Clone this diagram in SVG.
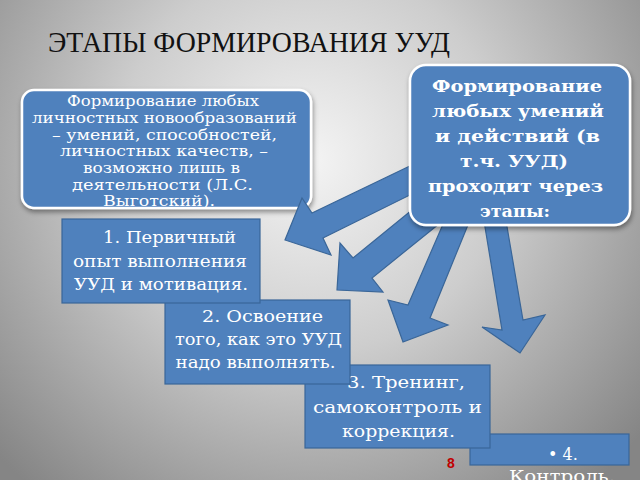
<svg xmlns="http://www.w3.org/2000/svg" width="640" height="480" viewBox="0 0 640 480">
<defs>
<radialGradient id="bg" cx="310" cy="160" r="430" gradientUnits="userSpaceOnUse">
<stop offset="0" stop-color="#f4f4f4"/>
<stop offset="0.45" stop-color="#cdcdcd"/>
<stop offset="1" stop-color="#858585"/>
</radialGradient>
<filter id="sh" x="-10%" y="-10%" width="120%" height="130%">
<feDropShadow dx="1" dy="3" stdDeviation="2.5" flood-color="#000" flood-opacity="0.4"/>
</filter>
<style>
.rb{fill:#4f81bd;stroke:#fff;stroke-width:2.5;filter:url(#sh)}
.sb{fill:#4f81bd;stroke:#3a6698;stroke-width:1.2}
.ar{fill:#4f81bd;stroke:#3a6698;stroke-width:1.2;stroke-linejoin:miter}
.ttl{font-family:'Liberation Serif','Times New Roman',serif;font-size:30px;fill:#111;text-anchor:middle}
.t{font-family:'DejaVu Serif','Liberation Serif',serif;fill:#fff;text-anchor:middle}
.s{font-size:14.5px}
.m{font-size:16px}
.b{font-size:16.5px;font-weight:bold}
.pg{font-family:'Liberation Sans',Arial,sans-serif;font-size:14px;font-weight:bold;fill:#c00000;text-anchor:middle}
</style>
</defs>
<rect width="640" height="480" fill="url(#bg)"/>
<text class="ttl" x="249" y="52" textLength="402" lengthAdjust="spacingAndGlyphs">ЭТАПЫ ФОРМИРОВАНИЯ УУД</text>

<g id="note-left">
<rect class="rb" x="22" y="90" width="289" height="118" rx="12"/>
<text class="t s"><tspan x="163" y="106" textLength="192" lengthAdjust="spacingAndGlyphs">Формирование любых</tspan><tspan x="164.5" y="123" textLength="265" lengthAdjust="spacingAndGlyphs">личностных новообразований</tspan><tspan x="164.5" y="140" textLength="225" lengthAdjust="spacingAndGlyphs">– умений, способностей,</tspan><tspan x="164" y="156" textLength="208" lengthAdjust="spacingAndGlyphs">личностных качеств, –</tspan><tspan x="161.5" y="173" textLength="157" lengthAdjust="spacingAndGlyphs">возможно лишь в</tspan><tspan x="162.5" y="190" textLength="181" lengthAdjust="spacingAndGlyphs">деятельности (Л.С.</tspan><tspan x="159" y="206" textLength="112" lengthAdjust="spacingAndGlyphs">Выготский).</tspan></text>
</g>

<g id="connectors">
<polygon class="ar" points="414,164 312,213 302,198 285,240 331,255 323,238 414,193"/>
<polygon class="ar" points="423,201 353,258 340,243 337,290 383,292 372,278 450,215"/>
<polygon class="ar" points="447,215 408,305 388,300 403,342 448,325 430,318 472,215"/>
<polygon class="ar" points="483,215 502,330 482,327 520,353 545,315 523,320 505,215"/>
</g>

<g id="note-right">
<rect class="rb" x="410" y="65" width="220" height="160" rx="16"/>
<text class="t b"><tspan x="517" y="92" textLength="170" lengthAdjust="spacingAndGlyphs">Формирование</tspan><tspan x="518" y="117" textLength="172" lengthAdjust="spacingAndGlyphs">любых умений</tspan><tspan x="517.5" y="142" textLength="165" lengthAdjust="spacingAndGlyphs">и действий (в</tspan><tspan x="514" y="167" textLength="108" lengthAdjust="spacingAndGlyphs">т.ч. УУД)</tspan><tspan x="515.5" y="192" textLength="175" lengthAdjust="spacingAndGlyphs">проходит через</tspan><tspan x="515" y="217" textLength="70" lengthAdjust="spacingAndGlyphs">этапы:</tspan></text>
</g>

<g id="stage-4">
<rect class="sb" x="470" y="434" width="159" height="31"/>
<text class="t m"><tspan x="563" y="460">• 4.</tspan><tspan x="562" y="482" textLength="106" lengthAdjust="spacingAndGlyphs">Контроль.</tspan></text>
</g>

<g id="stage-3">
<rect class="sb" x="305" y="365" width="185" height="83"/>
<text class="t m"><tspan x="406" y="388" textLength="118" lengthAdjust="spacingAndGlyphs">3. Тренинг,</tspan><tspan x="397.5" y="413" textLength="169" lengthAdjust="spacingAndGlyphs">самоконтроль и</tspan><tspan x="398.5" y="437" textLength="113" lengthAdjust="spacingAndGlyphs">коррекция.</tspan></text>
</g>

<g id="stage-2">
<rect class="sb" x="165" y="300" width="185" height="84"/>
<text class="t m"><tspan x="262.5" y="322" textLength="121" lengthAdjust="spacingAndGlyphs">2. Освоение</tspan><tspan x="258.5" y="345" textLength="167" lengthAdjust="spacingAndGlyphs">того, как это УУД</tspan><tspan x="255.5" y="368" textLength="160" lengthAdjust="spacingAndGlyphs">надо выполнять.</tspan></text>
</g>

<g id="stage-1">
<rect class="sb" x="62" y="219" width="198" height="84"/>
<text class="t m"><tspan x="169.5" y="243" textLength="133" lengthAdjust="spacingAndGlyphs">1. Первичный</tspan><tspan x="160" y="267" textLength="174" lengthAdjust="spacingAndGlyphs">опыт выполнения</tspan><tspan x="161" y="290" textLength="174" lengthAdjust="spacingAndGlyphs">УУД и мотивация.</tspan></text>
</g>

<text class="pg" x="451" y="468">8</text>
</svg>
